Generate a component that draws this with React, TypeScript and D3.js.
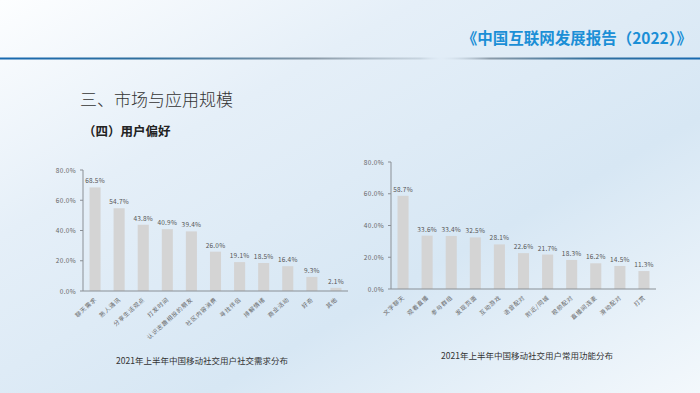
import React from 'react'
import { scaleBand, scaleLinear } from 'd3'

const needCategories = ['聊天需求', '熟人通讯', '分享生活观点', '打发时间', '认识志趣相投的朋友', '社区内容消费', '寻找伴侣', '排解情绪', '商业活动', '好奇', '其他']
const needValues = [68.5, 54.7, 43.8, 40.9, 39.4, 26.0, 19.1, 18.5, 16.4, 9.3, 2.1]
const featureCategories = ['文字聊天', '观看直播', '参与群组', '发现页面', '互动游戏', '语音配对', '附近/同城', '视频配对', '直播间连麦', '滑动配对', '打赏']
const featureValues = [58.7, 33.6, 33.4, 32.5, 28.1, 22.6, 21.7, 18.3, 16.2, 14.5, 11.3]
const yTicks = [0, 20, 40, 60, 80]

const width = 700
const height = 393
const font = '"Noto Sans CJK SC", "Noto Sans", sans-serif'

function BarPanel({ categories, values, caption, x0, x1, yTop, yBottom, captionX, captionY }) {
    const x = scaleBand().domain(categories).range([x0, x1]).paddingInner(0.54).paddingOuter(0.27)
    const y = scaleLinear().domain([0, 80]).range([yBottom, yTop])

    return (
        <g fontFamily={font}>
            {/* y axis */}
            <line x1={x0} x2={x0} y1={yTop} y2={yBottom} stroke="#8a8f95" strokeWidth={1} />
            {yTicks.map(t => (
                <g key={t}>
                    <line x1={x0 - 3} x2={x0} y1={y(t)} y2={y(t)} stroke="#8a8f95" />
                    <text x={x0 - 7} y={y(t) + 2.5} fontSize={6.5} fill="#666" textAnchor="end" letterSpacing={0.3}>
                        {t.toFixed(1)}%
                    </text>
                </g>
            ))}
            {categories.map((c, i) => (
                <g key={c}>
                    <rect x={x(c)} y={y(values[i])} width={x.bandwidth()} height={yBottom - y(values[i])} fill="#d4d4d4" />
                    <text x={x(c) + x.bandwidth() / 2} y={y(values[i]) - 4} fontSize={6.5} fill="#555" textAnchor="middle" letterSpacing={0.2}>
                        {values[i].toFixed(1)}%
                    </text>
                    <text
                        transform={`translate(${x(c) + x.bandwidth() / 2 + 2}, ${yBottom + 9}) rotate(-42)`}
                        fontSize={5.8}
                        fill="#666"
                        textAnchor="end"
                        letterSpacing={0.8}
                    >
                        {c}
                    </text>
                </g>
            ))}
            {/* x axis */}
            <line x1={x0} x2={x1} y1={yBottom} y2={yBottom} stroke="#8a8f95" strokeWidth={1.2} />
            <text x={captionX} y={captionY} fontSize={8.5} fill="#333" textAnchor="middle">
                {caption}
            </text>
        </g>
    )
}

function App() {
    return (
        <svg width={width} height={height} style={{ position: 'absolute', left: 0, top: 0 }}>
            <defs>
                <linearGradient id="bg" x1="0" y1="0" x2="1" y2="1">
                    <stop offset="0" stopColor="#fdfeff" />
                    <stop offset="0.3" stopColor="#e5eff8" />
                    <stop offset="0.65" stopColor="#d7e7f4" />
                    <stop offset="1" stopColor="#f3f8fc" />
                </linearGradient>
                <linearGradient id="rule" x1="0" y1="0" x2="1" y2="0">
                    <stop offset="0" stopColor="#1769b0" />
                    <stop offset="0.2" stopColor="#2f6f9e" />
                    <stop offset="0.45" stopColor="#8a9aa8" />
                    <stop offset="0.6" stopColor="#b5c3cf" stopOpacity="0.6" />
                    <stop offset="0.63" stopColor="#dbe8f3" stopOpacity="0.2" />
                    <stop offset="0.7" stopColor="#8a9aa8" />
                    <stop offset="0.85" stopColor="#2f6f9e" />
                    <stop offset="1" stopColor="#1769b0" />
                </linearGradient>
            </defs>
            <rect width={width} height={height} fill="url(#bg)" />
            <text x={692} y={44} fontFamily={font} fontSize={15.5} fontWeight="bold" fill="#1b8fd6" textAnchor="end">
                《中国互联网发展报告（2022）》
            </text>
            <rect x={0} y={57.5} width={width} height={2} fill="url(#rule)" />
            <text x={80} y={106} fontFamily={font} fontSize={17} fontWeight={300} fill="#333">
                三、市场与应用规模
            </text>
            <text x={83} y={136} fontFamily={font} fontSize={12.5} fontWeight="bold" fill="#222">
                （四）用户偏好
            </text>
            <BarPanel
                categories={needCategories}
                values={needValues}
                caption="2021年上半年中国移动社交用户社交需求分布"
                x0={83}
                x1={348}
                yTop={170}
                yBottom={291}
                captionX={202}
                captionY={364}
            />
            <BarPanel
                categories={featureCategories}
                values={featureValues}
                caption="2021年上半年中国移动社交用户常用功能分布"
                x0={391}
                x1={656}
                yTop={162}
                yBottom={289}
                captionX={527}
                captionY={359}
            />
        </svg>
    )
}

export default App
